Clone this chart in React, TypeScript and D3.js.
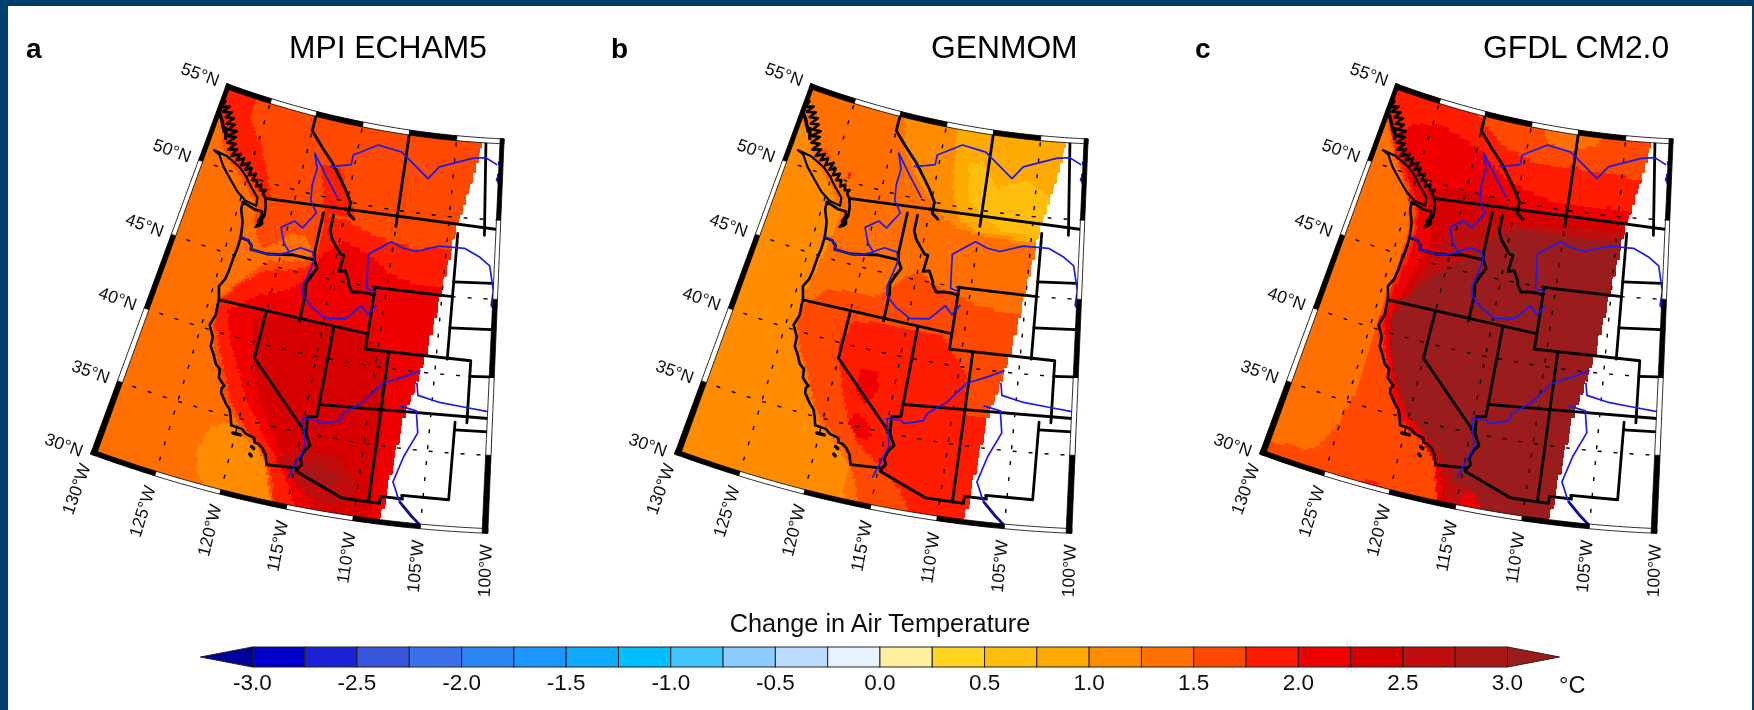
import { useMemo } from "react";
import * as d3 from "d3";

const W = 1754;
const H = 710;

// legend bins, degrees C
const legendBreaks = d3.range(-3, 3.001, 0.25);
const legendColors = [
  "#00009b", "#0000c8", "#1a22d8", "#3855dc", "#3a70e8", "#2a85f2", "#1c96ff",
  "#0aaaff", "#00bfff", "#45c3ff", "#8ccbff", "#bcdcff", "#e8f2ff", "#fff0a0",
  "#ffd520", "#ffbe10", "#ffaa00", "#ff8c00", "#ff7000", "#ff4800", "#ff1a00",
  "#f00000", "#d60000", "#c00808", "#aa1414", "#9b1c1c",
];
const legendTicks = [-3, -2.5, -2, -1.5, -1, -0.5, 0, 0.5, 1, 1.5, 2, 2.5, 3];

const lonTicks = [-130, -125, -120, -115, -110, -105, -100];
const latTicks = [30, 35, 40, 45, 50, 55];

type Pt = [number, number];
type Zone = { value: number; ring: Pt[] };

// model domain, the raster stops at this edge
const domainRing: Pt[] = [
  [-129.6, 29], [-129.6, 30], [-130.6, 33], [-130.6, 56], [-101.8, 56], [-102.1, 55],
  [-103.2, 52], [-104.3, 49], [-105.1, 45], [-105.9, 41], [-107.2, 36.7], [-108, 30], [-108.2, 29],
];

const coast: Pt[] = [
  [-117.12, 32.53], [-117.25, 32.85], [-117.33, 33.1], [-117.7, 33.5], [-118.1, 33.72], [-118.4, 33.75],
  [-118.5, 34.03], [-119.2, 34.15], [-119.6, 34.4], [-120.47, 34.45], [-120.65, 34.9], [-120.9, 35.4],
  [-121.3, 35.7], [-121.9, 36.3], [-121.95, 36.6], [-121.8, 36.8], [-122.05, 36.95], [-122.4, 37.2],
  [-122.5, 37.75], [-122.95, 38.0], [-123.3, 38.5], [-123.75, 39.0], [-123.8, 39.6], [-124.35, 40.3],
  [-124.1, 41.0], [-124.2, 41.75], [-124.2, 42.0], [-124.55, 42.84], [-124.2, 43.4], [-124.1, 44.0],
  [-124.05, 44.8], [-123.95, 45.5], [-123.95, 46.2], [-124.05, 46.7], [-124.2, 47.2], [-124.65, 47.9],
  [-124.72, 48.38], [-123.5, 48.15], [-122.75, 48.15], [-122.4, 47.4], [-122.9, 47.1], [-122.4, 47.9],
  [-122.5, 48.5], [-122.76, 49], [-123.1, 49.25], [-122.95, 49.5], [-123.4, 49.4], [-123.5, 49.75],
  [-123.9, 49.55], [-124, 49.95], [-124.45, 49.85], [-124.3, 50.3], [-124.9, 50.1], [-124.85, 50.55],
  [-125.4, 50.35], [-125.2, 50.85], [-125.9, 50.55], [-125.85, 51], [-126.5, 50.75], [-126.3, 51.2],
  [-127.1, 50.9], [-126.8, 51.4], [-127.6, 51.2], [-127.1, 51.7], [-127.9, 51.6], [-127.3, 52.1],
  [-128.1, 52], [-127.4, 52.45], [-128.2, 52.4], [-127.8, 52.8], [-128.6, 52.7], [-128.1, 53.15],
  [-128.9, 53.05], [-128.5, 53.45], [-129.4, 53.3], [-128.9, 53.75], [-129.7, 53.55], [-129.5, 53.95],
  [-130.2, 53.7],
];
const vancouverIsland: Pt[] = [
  [-129, 50.9], [-128.3, 50.75], [-127.5, 50.1], [-126.5, 49.5], [-125.5, 48.9], [-124.5, 48.5], [-123.4, 48.4],
  [-123.5, 48.9], [-124.3, 49.4], [-125.2, 50], [-126, 50.4], [-127.5, 50.8], [-129, 50.9],
];
const islands: Pt[][] = [
  [[-128.6, 52.2], [-129.3, 52.9], [-130.2, 53.5]],
  [[-128.2, 51.8], [-128.5, 52.4]],
  [[-122.6, 47.8], [-122.8, 47.5], [-122.55, 47.3]],
  [[-120.2, 34], [-119.6, 34]],
  [[-118.55, 33.45], [-118.35, 33.35]],
  [[-118.55, 32.95], [-118.4, 32.85]],
];

const stateLines: Pt[][] = [
  [[-122.76, 49], [-95, 49]],
  [[-123.95, 46.2], [-123.2, 46.15], [-122.8, 45.9], [-122.75, 45.65], [-121.2, 45.65], [-119.3, 45.93], [-119, 46], [-116.92, 46]],
  [[-117.04, 46.42], [-117.04, 49]],
  [[-116.05, 49], [-116.05, 48], [-115.7, 47.5], [-114.7, 46.7], [-114.35, 46.65], [-114.5, 45.6], [-113.95, 45.7], [-113.45, 45.05], [-113.45, 44.9], [-113, 44.45], [-112.3, 44.55], [-111.5, 44.55], [-111.05, 44.48]],
  [[-117.04, 46.42], [-116.92, 46], [-116.5, 45.5], [-116.85, 45], [-117.2, 44.4], [-117.03, 43.8], [-117.03, 42]],
  [[-124.2, 42], [-111.05, 42]],
  [[-120, 42], [-120, 39], [-114.63, 35], [-114.14, 34.3], [-114.5, 33.9], [-114.7, 33.4], [-114.5, 33], [-114.72, 32.72], [-117.12, 32.53]],
  [[-114.72, 32.72], [-114.81, 32.5], [-111.07, 31.33], [-108.21, 31.33], [-108.21, 31.78], [-106.53, 31.78], [-106.62, 32], [-103.06, 32], [-103, 37]],
  [[-114.04, 42], [-114.04, 36.2], [-114.75, 36.1], [-114.63, 35]],
  [[-114.04, 37], [-94, 37]],
  [[-109.05, 41], [-109.05, 31.33]],
  [[-111.05, 45], [-111.05, 41], [-102.05, 41], [-102.05, 37]],
  [[-111.05, 45], [-104.05, 45]],
  [[-111.05, 44.48], [-111.05, 45]],
  [[-104.05, 49], [-104.05, 41]],
  [[-104.05, 45.94], [-96, 45.94]],
  [[-104.05, 43], [-96, 43]],
  [[-102.05, 40], [-95, 40]],
  [[-103, 36.5], [-100, 36.5], [-100, 34.56], [-98, 34.2]],
  [[-120, 56], [-120, 53.8], [-118.5, 52.9], [-117.3, 52.2], [-116.5, 51.6], [-115.5, 50.8], [-114.7, 50], [-114.7, 49.3], [-114.07, 49]],
  [[-110, 56], [-110, 49]],
  [[-102, 56], [-101.5, 49]],
];

const rivers: Pt[][] = [
  // Columbia
  [[-124, 46.25], [-123.4, 46.2], [-122.9, 46], [-122.7, 45.65], [-122, 45.65], [-121.2, 45.65], [-120.5, 45.72], [-119.3, 46.1], [-120, 46.6], [-120.6, 47.5], [-119.5, 48.1], [-118.65, 47.8], [-117.7, 48.9], [-118.5, 49.6], [-118.7, 50.6], [-118.6, 51.6], [-119.2, 52.5], [-117.6, 51.3], [-116, 50.1]],
  // Snake
  [[-119.3, 46.15], [-118.4, 46.55], [-117.2, 46.45], [-116.95, 46], [-117, 45.6], [-117.4, 44.2], [-117.2, 43.6], [-116.2, 43], [-114.85, 42.5], [-113.2, 42.7], [-112, 43.7], [-111.3, 43.2], [-110.7, 43.9]],
  // Missouri
  [[-110.9, 44.7], [-111.8, 44.85], [-112.15, 47], [-110.2, 48], [-109, 47.7], [-107.8, 47.6], [-105.7, 48.1], [-103.3, 48.1], [-101.8, 47.6], [-100.85, 47.1], [-100.4, 45.5], [-100.55, 44.6], [-100.2, 44.3]],
  // North Saskatchewan
  [[-117.4, 51.9], [-115.35, 52.3], [-115.35, 52.9], [-113, 53.8], [-110.5, 53.6], [-107.5, 52.2], [-106.5, 53], [-103.2, 53.7], [-101.8, 53.8], [-100.6, 53.4]],
  [[-100.5, 53.6], [-100.2, 53], [-100.6, 52.5], [-100.3, 52.2], [-100.5, 52.8], [-100.2, 52.5]],
  // Colorado
  [[-115.3, 32], [-114.5, 34.2], [-115.1, 35.9], [-114, 36], [-113.7, 35.8], [-112.2, 36.2], [-112, 36.7], [-110.6, 37.6], [-109.2, 39], [-107.5, 39.6], [-106.2, 40.1]],
  // Arkansas
  [[-106.4, 39.3], [-106.2, 38.5], [-104.5, 38.2], [-102.3, 38], [-100.4, 37.8]],
  // Rio Grande
  [[-107.6, 37.7], [-106.2, 37.5], [-105.9, 36.1], [-106.8, 34.5], [-107.4, 32.8], [-106.75, 31.6]],
];
const lowerRioGrande: Pt[] = [[-106.75, 31.6], [-105.8, 30.8], [-105, 30.2]];

const mpiZones: Zone[] = [
  { value: 1.1, ring: [[-120.9, 34.6], [-122, 34], [-122.5, 32.5], [-122.2, 31], [-121, 30], [-121, 29], [-115.9, 29], [-116.5, 31], [-116.9, 32.3], [-118, 33.4], [-119.5, 34]] },
  { value: 1.6, ring: [[-130.5, 56], [-99, 56], [-99, 29], [-115.9, 29], [-115.9, 30], [-116.5, 31], [-117, 32.2], [-118, 33.5], [-120, 34.7], [-121.5, 36], [-122.5, 37.5], [-123.5, 39], [-124.3, 40.5], [-124.3, 42], [-122.7, 43.8], [-121.1, 45.2], [-122.5, 46.5], [-123.3, 47.6], [-123.5, 48.5], [-125, 49.5], [-126.5, 50.3], [-128, 51], [-129, 52.5], [-130.5, 54]] },
  { value: 1.4, ring: [[-122.3, 45.6], [-121.1, 45.2], [-119.5, 45.5], [-117.8, 45.8], [-117.2, 46.5], [-118, 47.3], [-119.5, 47.3], [-120.5, 46.5]] },
  { value: 1.9, ring: [[-130.5, 56], [-126.5, 56], [-126.5, 53.5], [-124.5, 52], [-123.5, 50.8], [-122.5, 49.5], [-122.3, 49], [-123, 49], [-125, 50.2], [-127, 51], [-128.5, 52.2], [-130.5, 53.5]] },
  { value: 1.9, ring: [[-118.5, 52], [-116.5, 52], [-114.5, 50], [-114, 49], [-117, 49], [-117.5, 50.5]] },
  { value: 1.9, ring: [[-124.3, 41.8], [-122.7, 43.5], [-121, 44.6], [-119, 45], [-117.2, 45.5], [-116.8, 46.5], [-116.8, 48], [-117, 49], [-114.5, 48.8], [-112, 48.2], [-108, 47.8], [-99, 48.3], [-99, 29], [-115.8, 29], [-116.2, 31], [-116.8, 32.3], [-118, 33.6], [-119.8, 34.8], [-121, 36], [-122, 37.5], [-123, 39], [-124, 40.5]] },
  { value: 2.1, ring: [[-123.2, 41.5], [-121, 43], [-118.5, 43.8], [-117, 45], [-116.2, 46.5], [-114.5, 47.5], [-112, 47], [-110, 46], [-107, 45.5], [-99, 45.5], [-99, 29], [-113.8, 29], [-114.8, 31], [-116, 32.5], [-117, 33.5], [-118.5, 35], [-120, 36.5], [-121.2, 38.2], [-122.5, 40]] },
  { value: 2.4, ring: [[-121, 41.5], [-117, 42.3], [-113.5, 42.3], [-111, 41.7], [-109.2, 41], [-108.8, 37.5], [-108.8, 33], [-108.7, 31], [-109.7, 29], [-113, 29], [-113.5, 31], [-114.6, 32], [-116.5, 33.8], [-118, 35.5], [-119.5, 37.5]] },
  { value: 2.6, ring: [[-116.5, 33.2], [-114.5, 33.8], [-112.5, 34], [-110.5, 33], [-110.2, 32], [-110.8, 31], [-112.5, 30.8], [-114.5, 31.5]] },
  { value: 2.9, ring: [[-114.5, 32.7], [-113.5, 33.2], [-112, 33], [-111.5, 32.3], [-112.5, 31.8], [-114, 31.9]] },
];

const genmomZones: Zone[] = [
  { value: 1.4, ring: [[-130.5, 56], [-120, 56], [-118.8, 53], [-116.5, 51], [-114.2, 49.5], [-112, 48.6], [-108, 48.3], [-99, 48.2], [-99, 29], [-116.3, 29], [-117.3, 31], [-117.3, 32.5], [-118.5, 33.7], [-120.5, 34.8], [-121.5, 36], [-122.7, 37.5], [-123.7, 39], [-124.3, 40.5], [-124.3, 42], [-123.8, 44], [-123.5, 45.5], [-123.3, 47], [-123.3, 48.2], [-125, 49.5], [-127, 50.7], [-128.5, 52], [-130.5, 53.5]] },
  { value: 1.6, ring: [[-126.8, 51.5], [-126, 51.6], [-125.7, 51], [-126.4, 50.9]] },
  { value: 1.9, ring: [[-123.6, 50.5], [-123.2, 50.5], [-123.1, 50.1], [-123.5, 50.1]] },
  { value: 0.9, ring: [[-114, 56], [-99, 56], [-99, 48.3], [-110, 48.6], [-112, 49.2], [-113, 50.5], [-113.5, 52.5]] },
  { value: 0.6, ring: [[-112, 52.7], [-110.5, 53], [-109, 51.5], [-106, 52.2], [-104, 51.5], [-99, 49.2], [-99, 48.5], [-107.5, 48.8], [-109.5, 49.5], [-111.5, 50.5]] },
  { value: 1.6, ring: [[-124, 41.8], [-122.5, 43], [-120.5, 43.4], [-118.5, 43.3], [-117, 44], [-116, 45], [-114.8, 45.5], [-113, 44.8], [-111.5, 44.6], [-109, 44], [-106.5, 43.8], [-99, 43.8], [-99, 29], [-115.5, 29], [-116.4, 31.2], [-117, 32.5], [-118.5, 34], [-120.3, 35], [-121.3, 36.3], [-122.3, 37.8], [-123.3, 39], [-124.2, 40.5]] },
  { value: 1.9, ring: [[-119.5, 41.5], [-117.5, 41.8], [-114.5, 41.8], [-112, 41.8], [-111, 41], [-109.2, 39.5], [-109, 37], [-99, 36.5], [-99, 29], [-111.2, 29], [-113, 31.5], [-114.5, 32.5], [-115, 32.9], [-117, 34], [-118.5, 36], [-119.5, 38], [-120.3, 40]] },
  { value: 2.1, ring: [[-118, 38.6], [-116.5, 38.8], [-116.3, 37.5], [-117, 36.5], [-118, 37.2]] },
  { value: 2.1, ring: [[-117.7, 36], [-116.6, 35.5], [-116, 34.5], [-117, 34.3], [-118, 35]] },
];

const gfdlZones: Zone[] = [
  { value: 1.6, ring: [[-131, 29], [-131, 30.8], [-128, 31.2], [-126.3, 31.4], [-125.2, 33.2], [-124.6, 35.5], [-124.6, 39.6], [-124.5, 41], [-124.4, 42], [-124.3, 44], [-124.1, 46], [-124.8, 48], [-126, 49.5], [-127.8, 51], [-129.3, 52.5], [-130.5, 54.5], [-130.5, 56], [-99, 56], [-99, 29]] },
  { value: 1.4, ring: [[-114.5, 56], [-106, 56], [-108, 54.2], [-111, 53.6], [-113, 53.9]] },
  { value: 1.9, ring: [[-130.5, 54.7], [-128.5, 56], [-124, 56], [-120.5, 54.6], [-117.5, 53.2], [-114, 52.6], [-110, 52.7], [-106, 52.6], [-99, 52], [-99, 29], [-116, 29], [-116.9, 31.5], [-117.2, 32.6], [-118.5, 33.8], [-120.5, 34.5], [-121.8, 36.3], [-122.6, 37.8], [-123.8, 39.3], [-124.4, 40.5], [-124.3, 42.5], [-124, 44.5], [-123.8, 46.5], [-124, 47.8], [-125.5, 49.3], [-127.5, 50.8], [-129, 52.3]] },
  { value: 1.9, ring: [[-122.2, 29], [-122.2, 30.4], [-121.3, 30.6], [-120.4, 30.2], [-120.4, 29]] },
  { value: 2.1, ring: [[-127, 53], [-124, 53.5], [-120, 52.8], [-116.5, 51.3], [-113, 50.6], [-110, 50.3], [-106, 50.5], [-99, 50], [-99, 29], [-116.2, 29], [-116.8, 31.5], [-117.3, 32.8], [-118.8, 34], [-120.8, 35], [-122.2, 37], [-123.3, 39], [-124.1, 40.8], [-124, 42.5], [-123.6, 44.5], [-123.5, 46], [-123.7, 47.8], [-125, 49.2], [-126.5, 50.5], [-128, 52]] },
  { value: 2.4, ring: [[-123.5, 49.2], [-121.5, 50], [-119, 50], [-116, 49.8], [-114, 49.6], [-110, 49.4], [-106, 49.4], [-99, 49.3], [-99, 29], [-115.8, 29], [-116.4, 31.5], [-117, 32.6], [-118.2, 34], [-120.3, 35.4], [-121.7, 37], [-122.8, 38.8], [-123.7, 40.5], [-123.4, 42.5], [-122.8, 44], [-122, 46], [-122.5, 48]] },
  { value: 2.6, ring: [[-120.5, 48], [-118, 48.3], [-115.5, 48.5], [-112, 48.8], [-108, 49], [-99, 48.9], [-99, 29], [-115.5, 29], [-116.1, 31.5], [-116.8, 32.6], [-118, 34.3], [-119.8, 35.8], [-121.2, 37.5], [-122.2, 39.5], [-122.8, 41.5], [-122.5, 43.5], [-121.5, 45.5]] },
  { value: 3.1, ring: [[-123.3, 42], [-122, 43.5], [-120, 45], [-118, 46], [-116.5, 47.5], [-114.5, 48.3], [-112, 48.4], [-108, 48.5], [-99, 48.2], [-99, 29], [-113.2, 29], [-113.6, 31.2], [-114.5, 31.6], [-115.5, 31.5], [-116, 32.5], [-117.8, 33.8], [-120.2, 35.3], [-121.6, 37], [-122.9, 39.3], [-123.5, 41]] },
  { value: 2.1, ring: [[-114.8, 29], [-114.6, 31], [-113.9, 31.2], [-113.3, 30.5], [-113.2, 29]] },
];

const panels = [
  { letter: "a", title: "MPI ECHAM5", base: 1.4, zones: mpiZones, dx: 0, letterX: 26, titleX: 289 },
  { letter: "b", title: "GENMOM", base: 1.1, zones: genmomZones, dx: 584, letterX: 611, titleX: 931 },
  { letter: "c", title: "GFDL CM2.0", base: 1.4, zones: gfdlZones, dx: 1169, letterX: 1195, titleX: 1483 },
];

const colorScale = d3.scaleThreshold<number, string>().domain(legendBreaks).range(legendColors);

const font = "'Liberation Sans', Arial, sans-serif";
const line = d3.line();
const coneN = Math.sin((36.44 * Math.PI) / 180);

function MapPanel({ panel }: { panel: (typeof panels)[number] }) {
  const projection = useMemo(
    () =>
      d3
        .geoConicConformal()
        .parallels([36.44, 36.44])
        .rotate([96, 0])
        .scale(891.5)
        .translate([542 + panel.dx, 1039]),
    [panel.dx]
  );
  const project = (p: Pt) => projection(p) as Pt;
  const toPath = (pts: Pt[]) => line(pts.map(project)) as string;

  // raster cells, one path per colour
  const cells = useMemo(() => {
    const lonStep = 0.25;
    const latStep = 0.22;
    const byColor = new Map<string, string[]>();
    for (const lon of d3.range(-130.75, -100, lonStep)) {
      for (const lat of d3.range(29.7, 55.4, latStep)) {
        const c: Pt = [lon + lonStep / 2, lat + latStep / 2];
        if (!d3.polygonContains(domainRing, c)) continue;
        let value = panel.base;
        for (const z of panel.zones) if (d3.polygonContains(z.ring, c)) value = z.value;
        const color = colorScale(value);
        const d =
          (line([[lon, lat], [lon + lonStep, lat], [lon + lonStep, lat + latStep], [lon, lat + latStep]].map((p) => project(p as Pt))) as string) + "Z";
        if (!byColor.has(color)) byColor.set(color, []);
        byColor.get(color)!.push(d);
      }
    }
    return Array.from(byColor, ([color, ds]) => ({ color, d: ds.join("") }));
  }, [panel]);

  const parallel = (lat: number, a = -130, b = -100) => d3.range(a, b + 0.001, 0.5).map((lon) => [lon, lat] as Pt);
  const meridian = (lon: number, a = 30, b = 55) => d3.range(a, b + 0.001, 0.5).map((lat) => [lon, lat] as Pt);
  const frameRing = [...parallel(30), ...meridian(-100), ...parallel(55).reverse(), ...meridian(-130).reverse()];
  const clipId = `frame-${panel.letter}`;

  // frame bars sit just inside the map edge, black and white every 5 degrees
  const latBand = 0.3;
  const lonBand = 0.42;
  const bars: { d: string; black: boolean }[] = [];
  for (const [i, lon] of lonTicks.slice(0, -1).entries()) {
    [
      [30, 30 + latBand],
      [55 - latBand, 55],
    ].forEach(([lo, hi]) => {
      const ring = [...parallel(lo, lon, lon + 5), ...parallel(hi, lon, lon + 5).reverse()];
      bars.push({ d: toPath(ring) + "Z", black: i % 2 === 0 });
    });
  }
  for (const [i, lat] of latTicks.slice(0, -1).entries()) {
    [
      [-130, -130 + lonBand],
      [-100 - lonBand, -100],
    ].forEach(([lo, hi]) => {
      const ring = [...meridian(lo, lat, lat + 5), ...meridian(hi, lat, lat + 5).reverse()];
      bars.push({ d: toPath(ring) + "Z", black: i % 2 === 0 });
    });
  }

  return (
    <g>
      <clipPath id={clipId}>
        <path d={toPath(frameRing) + "Z"} />
      </clipPath>
      <g clipPath={`url(#${clipId})`}>
        {cells.map((c) => (
          <path key={c.color} d={c.d} fill={c.color} shapeRendering="crispEdges" />
        ))}
        {lonTicks.slice(1, -1).map((lon) => (
          <path key={lon} d={toPath(meridian(lon))} fill="none" stroke="#000" strokeWidth={1.4} strokeDasharray="4 12" />
        ))}
        {latTicks.slice(1, -1).map((lat) => (
          <path key={lat} d={toPath(parallel(lat))} fill="none" stroke="#000" strokeWidth={1.4} strokeDasharray="4 12" />
        ))}
        {stateLines.map((s, i) => (
          <path key={i} d={toPath(s)} fill="none" stroke="#000" strokeWidth={2.8} strokeLinejoin="round" strokeLinecap="round" />
        ))}
        <path d={toPath(coast)} fill="none" stroke="#000" strokeWidth={2.6} strokeLinejoin="round" />
        <path d={toPath(vancouverIsland)} fill="none" stroke="#000" strokeWidth={2.2} strokeLinejoin="round" />
        {islands.map((s, i) => (
          <path key={i} d={toPath(s)} fill="#000" stroke="#000" strokeWidth={3.4} strokeLinejoin="round" strokeLinecap="round" />
        ))}
        {rivers.map((s, i) => (
          <path key={i} d={toPath(s)} fill="none" stroke="#1c1ce8" strokeWidth={1.7} strokeLinejoin="round" />
        ))}
        <path d={toPath(lowerRioGrande)} fill="none" stroke="#0a0a90" strokeWidth={2.8} />
      </g>
      {bars.map((b, i) => (
        <path key={i} d={b.d} fill={b.black ? "#000" : "#fff"} stroke="#000" strokeWidth={0.8} />
      ))}
      {latTicks.map((lat) => {
        const [x, y] = project([-130, lat]);
        return (
          <text key={lat} transform={`translate(${x - 27},${y - 8}) rotate(20)`} textAnchor="middle" dominantBaseline="middle" fontFamily={font} fontSize={17.5} fill="#111">
            {lat}°N
          </text>
        );
      })}
      {lonTicks.map((lon) => {
        const [x, y] = project([lon, 27.6]);
        const angle = -90 - coneN * (lon + 96);
        return (
          <text key={lon} transform={`translate(${x},${y}) rotate(${angle})`} textAnchor="middle" dominantBaseline="middle" fontFamily={font} fontSize={17.5} fill="#111">
            {Math.abs(lon)}°W
          </text>
        );
      })}
      <text x={panel.letterX} y={58} fontFamily={font} fontWeight="bold" fontSize={28} fill="#000">
        {panel.letter}
      </text>
      <text x={panel.titleX} y={58} fontFamily={font} fontSize={31.8} fill="#000">
        {panel.title}
      </text>
    </g>
  );
}

function Legend() {
  const x = d3.scaleLinear().domain([-3, 3]).range([252.4, 1507.5]);
  const top = 647;
  const bottom = 667;
  const mid = (top + bottom) / 2;
  const tip = 52;
  return (
    <g>
      <path d={`M${x(-3)},${top}L${x(-3) - tip},${mid}L${x(-3)},${bottom}Z`} fill={legendColors[0]} stroke="#222" strokeWidth={1} />
      <path d={`M${x(3)},${top}L${x(3) + tip},${mid}L${x(3)},${bottom}Z`} fill={legendColors[legendColors.length - 1]} stroke="#222" strokeWidth={1} />
      {legendBreaks.slice(0, -1).map((b, i) => (
        <rect key={b} x={x(b)} y={top} width={x(b + 0.25) - x(b)} height={bottom - top} fill={legendColors[i + 1]} stroke="#222" strokeWidth={1} />
      ))}
      {legendTicks.map((t) => (
        <text key={t} x={x(t)} y={690} textAnchor="middle" fontFamily={font} fontSize={22.5} fill="#111">
          {t.toFixed(1)}
        </text>
      ))}
      <text x={880} y={632} textAnchor="middle" fontFamily={font} fontSize={25.3} fill="#111">
        Change in Air Temperature
      </text>
      <text x={1559} y={693} fontFamily={font} fontSize={23.5} fill="#111">
        °C
      </text>
    </g>
  );
}

export default function App() {
  return (
    <svg width={W} height={H} viewBox={`0 0 ${W} ${H}`} style={{ position: "absolute", left: 0, top: 0 }}>
      <defs>
        <filter id="soft" x="0" y="0" width="100%" height="100%">
          <feGaussianBlur stdDeviation={0.5} />
        </filter>
      </defs>
      <rect width={W} height={H} fill="#003f6b" />
      <rect x={8} y={6} width={W - 10} height={H - 6} fill="#fff" />
      <g filter="url(#soft)">
        {panels.map((p) => (
          <MapPanel key={p.letter} panel={p} />
        ))}
        <Legend />
      </g>
    </svg>
  );
}
